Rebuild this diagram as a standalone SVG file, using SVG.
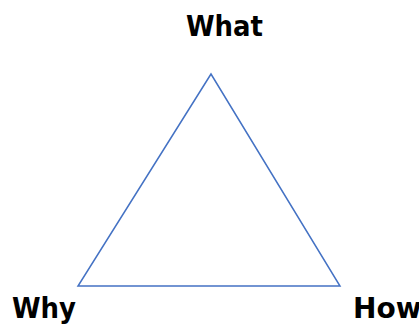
<svg xmlns="http://www.w3.org/2000/svg" width="419" height="324" viewBox="0 0 419 324">
<style>
.lbl{font-family:"DejaVu Sans",Verdana,sans-serif;font-weight:bold;font-size:28px;fill:#000}
.edge{fill:none;stroke:#4472C4;stroke-width:1.5}
</style>
<rect width="419" height="324" fill="#fff"/>
<g id="connectors">
<polygon class="edge" points="211,74 78,286 340,286"/>
</g>
<g id="what"><text class="lbl" x="186" y="36" textLength="77" lengthAdjust="spacingAndGlyphs">What</text></g>
<g id="why"><text class="lbl" x="12" y="318" textLength="64" lengthAdjust="spacingAndGlyphs">Why</text></g>
<g id="how"><text class="lbl" x="353" y="318">How</text></g>
</svg>
